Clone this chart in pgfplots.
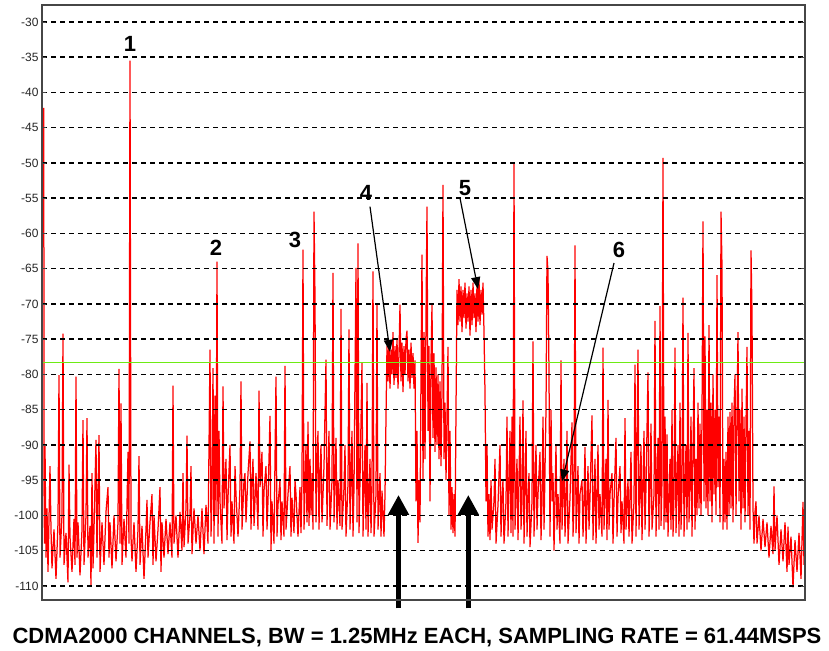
\documentclass[border=0pt]{standalone}
\usepackage{fontspec}
\setmainfont{Liberation Sans}
\usepackage{pgfplots}
\pgfplotsset{compat=1.18}
\usetikzlibrary{arrows.meta}
\definecolor{specred}{RGB}{255,0,0}
\definecolor{thresh}{RGB}{110,235,20}
\definecolor{framegray}{RGB}{70,70,70}

\begin{document}
\begin{tikzpicture}
\path[use as bounding box] (-42pt,-50pt) rectangle (787pt,600pt);
\begin{axis}[
    scale only axis,
    width=763pt, height=595pt,
    xmin=42, xmax=805, ymin=-112, ymax=-27.6,
    xtick=\empty,
    ytick={-110,-105,...,-30},
    ytick pos=both, yticklabel pos=left,
    tick align=inside,
    major tick length=4pt,
    tick style={framegray, line width=0.8pt},
    ymajorgrids,
    grid style={black, line width=1.6pt, dash pattern=on 5pt off 4pt},
    axis line style={framegray, line width=1.2pt},
    yticklabel style={font=\fontsize{12}{12}\selectfont, text=black!85},
    /pgf/number format/assume math mode=true,
    axis on top,
    clip=false,
]
% spectrum, x = screen column, y = dB
\addplot[specred, line width=1.25pt] coordinates {
(43.8,-42.2) (44,-95) (44.5,-104) (45,-90) (46,-106) (47,-99) (48,-108) (50,-93) (51,-102) (52,-107.5)
(54,-102) (56,-109) (58,-101) (59,-80.1) (60,-106) (62,-100) (63,-74.2) (64,-107) (66,-102.5) (68,-109.5)
(69,-92.8) (70,-103) (72,-108) (74,-100.5) (75,-107) (76,-80.3) (77,-106) (78,-101) (80,-108.5) (82,-102)
(83,-86.5) (84,-107) (86,-100) (87,-86.2) (88,-106) (90,-101.5) (91,-110) (92,-94) (93,-107.5) (94,-102)
(96,-89.3) (97,-106) (99,-88.6) (100,-108) (102,-101) (104,-107) (106,-99.5) (108,-96) (109,-106) (110,-101)
(112,-107.5) (114,-100) (116,-106.5) (118,-101) (119,-79.2) (120,-104) (121,-84.1) (122,-107) (124,-100.5) (126,-106)
(128,-91) (129,-104) (130,-35.5) (131,-103) (132,-106.5) (134,-101) (136,-108) (138,-102) (139,-91.6) (140,-107)
(142,-101.5) (144,-109) (146,-102) (147,-97.8) (148,-106) (150,-101) (152,-97) (153,-107) (154,-100) (156,-106.5)
(158,-102) (160,-96) (161,-108) (162,-101) (164,-106) (166,-100.5) (168,-105.5) (170,-101) (172,-106) (173,-81.6)
(174,-104) (176,-100) (178,-106) (180,-99.5) (182,-105) (183,-94) (184,-104.5) (186,-99) (187,-88.7) (188,-104)
(190,-100) (191,-93) (192,-105.5) (194,-99) (196,-104) (198,-100) (200,-105) (202,-99) (204,-105.5) (206,-98.5)
(208,-104) (210,-76.5) (211,-103) (212,-97) (213,-79.1) (214,-104) (215,-83) (216,-100) (217,-64.0) (218,-103)
(219,-88) (220,-98) (222,-104) (223,-81.7) (224,-99) (226,-92) (227,-103.5) (228,-97.5) (230,-90) (231,-103)
(232,-98) (234,-104) (235,-93) (236,-97) (238,-103) (240,-96) (241,-81.0) (242,-102) (244,-95) (245,-94)
(246,-101) (248,-94) (250,-89.5) (251,-102) (252,-95) (253,-92) (254,-101.5) (256,-94) (258,-102) (259,-82.3)
(260,-96) (262,-91) (263,-103) (264,-96.5) (266,-93) (267,-102) (268,-98) (270,-85.9) (271,-104.9) (272,-98)
(274,-104) (276,-80.3) (277,-103) (278,-98.5) (280,-95) (281,-103.5) (282,-98) (284,-103) (285,-78.8) (286,-102)
(288,-97) (290,-93) (291,-103) (292,-97.5) (294,-102.5) (295,-95) (296,-97) (298,-103) (300,-96) (301,-102.5)
(302,-95) (303,-62.3) (304,-102) (306,-90) (307,-101) (308,-86.7) (309,-101.5) (310,-92) (311,-100) (312,-94)
(313,-102) (314,-56.9) (315,-69.1) (316,-101) (317,-93) (318,-88) (319,-102) (320,-94) (321,-90) (322,-101)
(324,-93) (326,-77.9) (327,-101.5) (328,-94) (329,-88) (330,-102) (332,-95) (333,-65.6) (334,-101) (336,-89)
(337,-102) (338,-95) (340,-101.5) (341,-70.7) (342,-102) (344,-96) (345,-90) (346,-103) (348,-95.5) (349,-73.6)
(350,-102) (352,-88) (353,-103) (354,-96) (356,-64.9) (357,-101) (358,-61.4) (359,-102.5) (360,-95) (362,-78.3)
(363,-103) (364,-96) (365,-90) (366,-102) (367,-81.2) (368,-103) (370,-92) (371,-102.5) (372,-96) (373,-65.4)
(374,-103) (376,-97) (377,-69.9) (378,-102) (380,-94) (381,-103) (382,-96.5) (384,-103) (385,-97) (386,-86)
(387,-76) (388,-81) (389,-75.5) (390,-82) (391,-76.5) (392,-80) (393,-74) (394,-81.5) (395,-76) (396,-80.5)
(397,-75) (398,-82) (399,-77) (400,-70.1) (401,-81) (402,-75.5) (403,-82.5) (404,-76) (405,-80) (406,-75)
(407,-73.8) (408,-81) (409,-76.5) (410,-82) (411,-75.5) (412,-80.5) (413,-77) (414,-82) (415,-78) (416,-98)
(417,-88) (418,-103.9) (419,-95) (420,-101) (421,-80) (422,-63) (423,-95) (424,-74) (425,-92) (426,-72)
(427,-56.2) (428,-88) (429,-76) (430,-98) (431,-78) (432,-70.1) (433,-89) (434,-77) (435,-91) (436,-79)
(437,-90) (438,-80) (439,-92) (440,-81) (441,-93) (442,-82) (443,-53.1) (444,-92) (445,-84) (446,-95)
(447,-86) (448,-76.1) (449,-100) (450,-88) (451,-102) (452,-96) (453,-102.5) (454,-97) (455,-103) (456,-85)
(457,-68) (458,-73) (459,-66.5) (460,-72.5) (461,-67.5) (462,-74) (463,-68) (464,-72) (465,-67) (466,-73.5)
(467,-68.5) (468,-72.5) (469,-67.5) (470,-74.5) (471,-68) (472,-73) (473,-67) (474,-72) (475,-68.5) (476,-74)
(477,-67) (478,-72.5) (479,-66.5) (480,-73) (481,-68) (482,-71.5) (483,-67) (484,-74) (485,-82.6) (486,-98)
(487,-90) (488,-103) (489,-97) (490,-103.5) (491,-95) (492,-102) (494,-98) (495,-92) (496,-104) (498,-98.5)
(500,-90) (501,-103) (502,-97.5) (503,-95) (504,-104) (506,-98) (507,-86) (508,-103) (510,-88) (511,-102.5)
(512,-86) (513,-103) (514,-49.9) (515,-102) (516,-97) (517,-92) (518,-103.5) (520,-86) (521,-102) (522,-98)
(523,-83.7) (524,-104) (526,-88) (527,-103) (528,-97.5) (529,-94) (530,-104.5) (532,-98) (533,-75.3) (534,-103)
(536,-90) (537,-102) (538,-97) (540,-91) (541,-103.5) (542,-98) (543,-86) (544,-102) (546,-85) (547,-63.2)
(548,-65.4) (549,-80) (550,-103) (551,-85) (552,-98) (553,-94) (554,-105) (556,-90) (557,-102) (558,-97)
(560,-104) (561,-78.0) (562,-102) (564,-92) (565,-103) (566,-98) (567,-88) (568,-104) (570,-97.5) (572,-86.8)
(573,-103) (574,-98) (575,-61.7) (576,-102.5) (578,-93) (579,-104) (580,-97) (582,-95) (583,-103) (584,-98)
(585,-90.3) (586,-104) (588,-93) (589,-102) (590,-97.5) (592,-85.8) (593,-103.5) (594,-98) (595,-92) (596,-104)
(598,-90) (599,-102) (600,-97) (602,-103) (603,-76.2) (604,-102) (606,-92) (607,-103.5) (608,-83.6) (609,-102)
(610,-97) (612,-94) (613,-104) (614,-98) (616,-89) (617,-103) (618,-97.5) (620,-93) (621,-102.5) (622,-98)
(624,-104) (625,-86.2) (626,-102) (628,-95) (629,-103) (630,-97) (631,-91) (632,-104) (634,-98) (635,-78.6)
(636,-103) (638,-76.5) (639,-102) (640,-97) (641,-90) (642,-103.5) (644,-88) (645,-102) (646,-96) (648,-79.7)
(649,-103) (650,-96.5) (651,-87) (652,-102) (654,-97) (655,-72.4) (656,-103) (658,-89) (659,-102) (660,-70.3)
(661,-101.5) (662,-95) (663,-49.3) (664,-102) (665,-86) (666,-101) (667,-88.5) (668,-103) (670,-92) (671,-102)
(672,-85) (673,-103) (674,-97) (675,-76.2) (676,-102.5) (678,-90) (679,-103) (680,-84) (681,-102) (682,-96)
(683,-69.1) (684,-103) (686,-90) (687,-102) (688,-74.1) (689,-101) (690,-96) (691,-86) (692,-103) (694,-79.1)
(695,-102) (696,-92) (697,-100) (698,-84) (699,-99) (700,-87) (701,-100) (702,-86) (703,-58.3) (704,-98)
(705,-74.6) (706,-99) (707,-85) (708,-100) (709,-73.0) (710,-98) (711,-84) (712,-101) (713,-80) (714,-97)
(715,-85) (716,-100) (717,-65.9) (718,-96) (719,-86) (720,-101) (721,-56.9) (722,-64.8) (723,-102) (724,-92)
(725,-101) (726,-91) (727,-102) (728,-86) (729,-100) (730,-85.3) (731,-99) (732,-84) (733,-101) (734,-85)
(735,-80) (736,-100) (737,-86) (738,-74.0) (739,-98) (740,-85) (741,-102) (742,-82) (743,-99) (744,-86)
(745,-101) (746,-87) (747,-76.1) (748,-100) (749,-88) (750,-102) (751,-62.4) (752,-71.4) (753,-99) (754,-104)
(755,-99.5) (756,-98) (757,-104) (759,-100) (761,-105) (763,-100.5) (765,-104.5) (767,-101) (769,-106) (771,-101.5)
(773,-105.5) (774,-95.9) (775,-105) (777,-100) (779,-107) (781,-102) (783,-106.5) (785,-101) (787,-108) (788,-101.6)
(789,-107) (791,-103) (793,-110.2) (795,-103.5) (797,-108) (799,-102.5) (801,-109) (803,-98.1) (804,-107) (805,-103)
};
% threshold line
\addplot[thresh, line width=1.5pt] coordinates {(42,-78.3) (805,-78.3)};

% numbered markers
\node[font=\bfseries\fontsize{22}{22}\selectfont] at (axis cs:130,-33.1) {1};
\node[font=\bfseries\fontsize{22}{22}\selectfont] at (axis cs:216,-62.1) {2};
\node[font=\bfseries\fontsize{22}{22}\selectfont] at (axis cs:295,-60.9) {3};
\node[font=\bfseries\fontsize{22}{22}\selectfont] at (axis cs:366,-54.3) {4};
\node[font=\bfseries\fontsize{22}{22}\selectfont] at (axis cs:465,-53.6) {5};
\node[font=\bfseries\fontsize{22}{22}\selectfont] at (axis cs:619,-62.3) {6};
\draw[black, line width=1.2pt, -{Triangle[length=12pt,width=9pt]}] (axis cs:370,-56.2) -- (axis cs:390,-76.8);
\draw[black, line width=1.2pt, -{Triangle[length=12pt,width=9pt]}] (axis cs:460,-55.0) -- (axis cs:478,-67.9);
\draw[black, line width=1.2pt, -{Triangle[length=12pt,width=9pt]}] (axis cs:614,-64.2) -- (axis cs:562,-95.2);

% channel arrows
\draw[black, line width=5pt, -{Triangle[length=20pt,width=20pt]}] (axis cs:398.5,-113.2) -- (axis cs:398.5,-97.1);
\draw[black, line width=5pt, -{Triangle[length=20pt,width=20pt]}] (axis cs:468.3,-113.2) -- (axis cs:468.3,-97.1);

\node[font=\bfseries\fontsize{22}{26}\selectfont, anchor=center, yshift=-38pt]
    at (rel axis cs:0.4915,0) {CDMA2000 CHANNELS, BW = 1.25MHz EACH, SAMPLING RATE = 61.44MSPS};
\end{axis}
\end{tikzpicture}
\end{document}
